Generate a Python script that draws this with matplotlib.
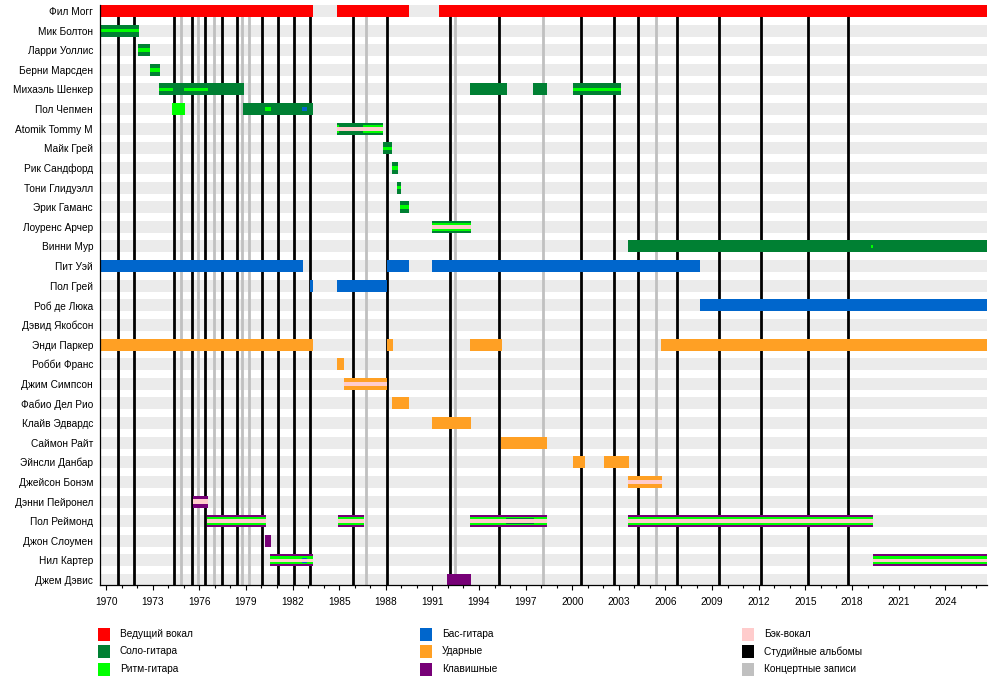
import matplotlib
matplotlib.use("Agg")
import matplotlib.pyplot as plt
from matplotlib.patches import Rectangle
from matplotlib.ticker import MultipleLocator

plt.rcParams["font.family"] = ["Liberation Sans", "DejaVu Sans"]

# ---------------------------------------------------------------------------
# Data
# ---------------------------------------------------------------------------
START = 1969.61
END = 2026.69

members = [
    "Фил Могг", "Мик Болтон", "Ларри Уоллис", "Берни Марсден",
    "Михаэль Шенкер", "Пол Чепмен", "Atomik Tommy M", "Майк Грей",
    "Рик Сандфорд", "Тони Глидуэлл", "Эрик Гаманс", "Лоуренс Арчер",
    "Винни Мур", "Пит Уэй", "Пол Грей", "Роб де Люка", "Дэвид Якобсон",
    "Энди Паркер", "Робби Франс", "Джим Симпсон", "Фабио Дел Рио",
    "Клайв Эдвардс", "Саймон Райт", "Эйнсли Данбар", "Джейсон Бонэм",
    "Дэнни Пейронел", "Пол Реймонд", "Джон Слоумен", "Нил Картер",
    "Джем Дэвис",
]

# main role of each stint: (member, role, from, till)
main_bars = [
    ("Фил Могг", "vocals", START, 1983.31),
    ("Фил Могг", "vocals", 1984.86, 1989.50),
    ("Фил Могг", "vocals", 1991.43, END),
    ("Мик Болтон", "lead", START, 1972.12),
    ("Ларри Уоллис", "lead", 1972.06, 1972.83),
    ("Берни Марсден", "lead", 1972.83, 1973.47),
    ("Михаэль Шенкер", "lead", 1973.41, 1978.88),
    ("Михаэль Шенкер", "lead", 1993.42, 1995.80),
    ("Михаэль Шенкер", "lead", 1997.48, 1998.38),
    ("Михаэль Шенкер", "lead", 2000.05, 2003.14),
    ("Пол Чепмен", "rhythm", 1974.25, 1975.08),
    ("Пол Чепмен", "lead", 1978.82, 1983.30),
    ("Atomik Tommy M", "lead", 1984.86, 1987.82),
    ("Майк Грей", "lead", 1987.82, 1988.40),
    ("Рик Сандфорд", "lead", 1988.40, 1988.79),
    ("Тони Глидуэлл", "lead", 1988.73, 1988.98),
    ("Эрик Гаманс", "lead", 1988.92, 1989.50),
    ("Лоуренс Арчер", "lead", 1990.98, 1993.49),
    ("Винни Мур", "lead", 2003.59, END),
    ("Пит Уэй", "bass", START, 1982.66),
    ("Пит Уэй", "bass", 1988.08, 1989.50),
    ("Пит Уэй", "bass", 1990.98, 2008.25),
    ("Пол Грей", "bass", 1983.11, 1983.30),
    ("Пол Грей", "bass", 1984.86, 1988.08),
    ("Роб де Люка", "bass", 2008.25, END),
    ("Энди Паркер", "drums", START, 1983.30),
    ("Энди Паркер", "drums", 1988.08, 1988.47),
    ("Энди Паркер", "drums", 1993.42, 1995.48),
    ("Энди Паркер", "drums", 2005.71, END),
    ("Робби Франс", "drums", 1984.86, 1985.32),
    ("Джим Симпсон", "drums", 1985.32, 1988.08),
    ("Фабио Дел Рио", "drums", 1988.40, 1989.50),
    ("Клайв Эдвардс", "drums", 1990.98, 1993.49),
    ("Саймон Райт", "drums", 1995.42, 1998.38),
    ("Эйнсли Данбар", "drums", 2000.05, 2000.82),
    ("Эйнсли Данбар", "drums", 2002.05, 2003.66),
    ("Джейсон Бонэм", "drums", 2003.59, 2005.78),
    ("Дэнни Пейронел", "keys", 1975.60, 1976.56),
    ("Пол Реймонд", "keys", 1976.50, 1980.30),
    ("Пол Реймонд", "keys", 1984.93, 1986.60),
    ("Пол Реймонд", "keys", 1993.42, 1998.38),
    ("Пол Реймонд", "keys", 2003.59, 2019.36),
    ("Джон Слоумен", "keys", 1980.23, 1980.62),
    ("Нил Картер", "keys", 1980.55, 1983.30),
    ("Нил Картер", "keys", 2019.36, END),
    ("Джем Дэвис", "keys", 1991.94, 1993.49),
]

# secondary roles, wide stripe
wide_stripes = [
    ("Atomik Tommy M", "rhythm", 1984.86, 1985.00),
    ("Atomik Tommy M", "rhythm", 1986.54, 1987.82),
    ("Лоуренс Арчер", "rhythm", 1990.98, 1993.49),
    ("Пол Реймонд", "rhythm", 1976.50, 1980.30),
    ("Пол Реймонд", "rhythm", 1984.93, 1986.60),
    ("Пол Реймонд", "rhythm", 1993.42, 1998.38),
    ("Пол Реймонд", "rhythm", 2003.59, 2019.36),
    ("Нил Картер", "rhythm", 1980.55, 1983.30),
    ("Нил Картер", "rhythm", 2019.36, END),
]

# secondary roles, medium stripe
medium_stripes = [
    ("Дэнни Пейронел", "backing", 1975.60, 1976.56),
    ("Пол Реймонд", "lead", 1995.74, 1997.54),
    ("Нил Картер", "bass", 1982.59, 1982.95),
]

# secondary roles, thin stripe
thin_stripes = [
    ("Мик Болтон", "rhythm", START, 1972.12),
    ("Ларри Уоллис", "rhythm", 1972.06, 1972.83),
    ("Берни Марсден", "rhythm", 1972.83, 1973.47),
    ("Михаэль Шенкер", "rhythm", 1973.41, 1974.31),
    ("Михаэль Шенкер", "rhythm", 1975.02, 1976.56),
    ("Михаэль Шенкер", "rhythm", 2000.05, 2003.14),
    ("Пол Чепмен", "rhythm", 1980.23, 1980.62),
    ("Пол Чепмен", "bass", 1982.59, 1982.95),
    ("Atomik Tommy M", "backing", 1984.86, 1987.82),
    ("Майк Грей", "rhythm", 1987.82, 1988.40),
    ("Рик Сандфорд", "rhythm", 1988.40, 1988.79),
    ("Тони Глидуэлл", "rhythm", 1988.73, 1988.98),
    ("Эрик Гаманс", "rhythm", 1988.92, 1989.50),
    ("Лоуренс Арчер", "backing", 1990.98, 1993.49),
    ("Винни Мур", "rhythm", 2019.25, 2019.33),
    ("Джим Симпсон", "backing", 1985.32, 1988.08),
    ("Джейсон Бонэм", "backing", 2003.59, 2005.78),
    ("Пол Реймонд", "backing", 1976.50, 1980.30),
    ("Пол Реймонд", "backing", 1984.93, 1986.60),
    ("Пол Реймонд", "backing", 1993.42, 1998.38),
    ("Пол Реймонд", "backing", 2003.59, 2019.36),
    ("Нил Картер", "backing", 1980.55, 1983.30),
    ("Нил Картер", "backing", 2019.36, END),
]

studio_albums = [1970.79, 1971.80, 1974.39, 1975.55, 1976.39, 1977.44,
                 1978.44, 1980.05, 1981.08, 1982.09, 1983.14, 1985.91,
                 1988.10, 1992.16, 1995.31, 2000.59, 2002.71, 2004.25,
                 2006.76, 2009.47, 2012.17, 2015.19, 2017.77]
live_albums = [1974.85, 1975.94, 1976.96, 1978.77, 1979.22, 1986.75,
               1992.46, 1998.10, 2005.39]

legend_keys = ["vocals", "lead", "rhythm", "bass", "drums", "keys",
               "backing", "studio", "live"]
legend_labels = ["Ведущий вокал", "Соло-гитара", "Ритм-гитара",
                 "Бас-гитара", "Ударные", "Клавишные",
                 "Бэк-вокал", "Студийные альбомы", "Концертные записи"]

# ---------------------------------------------------------------------------
# Style
# ---------------------------------------------------------------------------
COLORS = {
    "vocals": "#ff0000",
    "lead": "#008033",
    "rhythm": "#00ff00",
    "bass": "#0066cc",
    "drums": "#ffa024",
    "keys": "#770077",
    "backing": "#ffcccc",
    "studio": "#000000",
    "live": "#c0c0c0",
}
ROW_PX = 19.62
H_FULL = 12.0 / ROW_PX
H_WIDE = 8.0 / ROW_PX
H_MED = 5.4 / ROW_PX
H_THIN = 3.6 / ROW_PX

W, H = 1001, 685
fig = plt.figure(figsize=(W / 100, H / 100), dpi=100)
ax = fig.add_axes([100 / W, 1 - 585 / H, 887 / W, 580 / H])

row_of = {m: i for i, m in enumerate(members)}
y_top = -6.0 / ROW_PX
y_bot = (585 - 11) / ROW_PX

# row backgrounds
for i in range(len(members)):
    ax.barh(i, END - START, left=START, height=H_FULL, color="#ebebeb",
            linewidth=0, zorder=0.5)

# album lines
ax.vlines(live_albums, y_bot, y_top, colors=COLORS["live"], lw=2.0, zorder=1)
ax.vlines(studio_albums, y_bot, y_top, colors=COLORS["studio"], lw=2.0, zorder=1.1)

# member bars, layered from widest to thinnest
for layer, height, z in [(main_bars, H_FULL, 2), (wide_stripes, H_WIDE, 3),
                         (medium_stripes, H_MED, 4), (thin_stripes, H_THIN, 5)]:
    for name, role, t0, t1 in layer:
        ax.barh(row_of[name], t1 - t0, left=t0, height=height,
                color=COLORS[role], linewidth=0, zorder=z)

ax.set_xlim(START, END)
ax.set_ylim(y_bot, y_top)
ax.set_yticks(range(len(members)))
ax.set_yticklabels(members, fontsize=7.3)
ax.tick_params(axis="y", length=0, pad=5)
ax.xaxis.set_major_locator(MultipleLocator(3))
ax.xaxis.set_minor_locator(MultipleLocator(1))
ax.set_xticks(range(1970, 2025, 3))
ax.tick_params(axis="x", which="major", length=3.5, width=0.8, labelsize=7.3, pad=5)
ax.tick_params(axis="x", which="minor", length=2, width=0.8)
for side in ("top", "right"):
    ax.spines[side].set_visible(False)
for side in ("left", "bottom"):
    ax.spines[side].set_linewidth(0.9)
    ax.spines[side].set_zorder(6)

# legend, three columns
col_x = [98, 420, 742]
row_y = [634, 651.5, 669]
for k, (key, label) in enumerate(zip(legend_keys, legend_labels)):
    cx = col_x[k // 3]
    cy = row_y[k % 3]
    fig.patches.append(Rectangle(((cx) / W, 1 - (cy + 6.5) / H), 12 / W, 13 / H,
                                 transform=fig.transFigure, facecolor=COLORS[key],
                                 edgecolor="none"))
    fig.text((cx + 22) / W, 1 - cy / H, label, fontsize=7.3, va="center", ha="left")

fig.savefig("out.png", dpi=100)
